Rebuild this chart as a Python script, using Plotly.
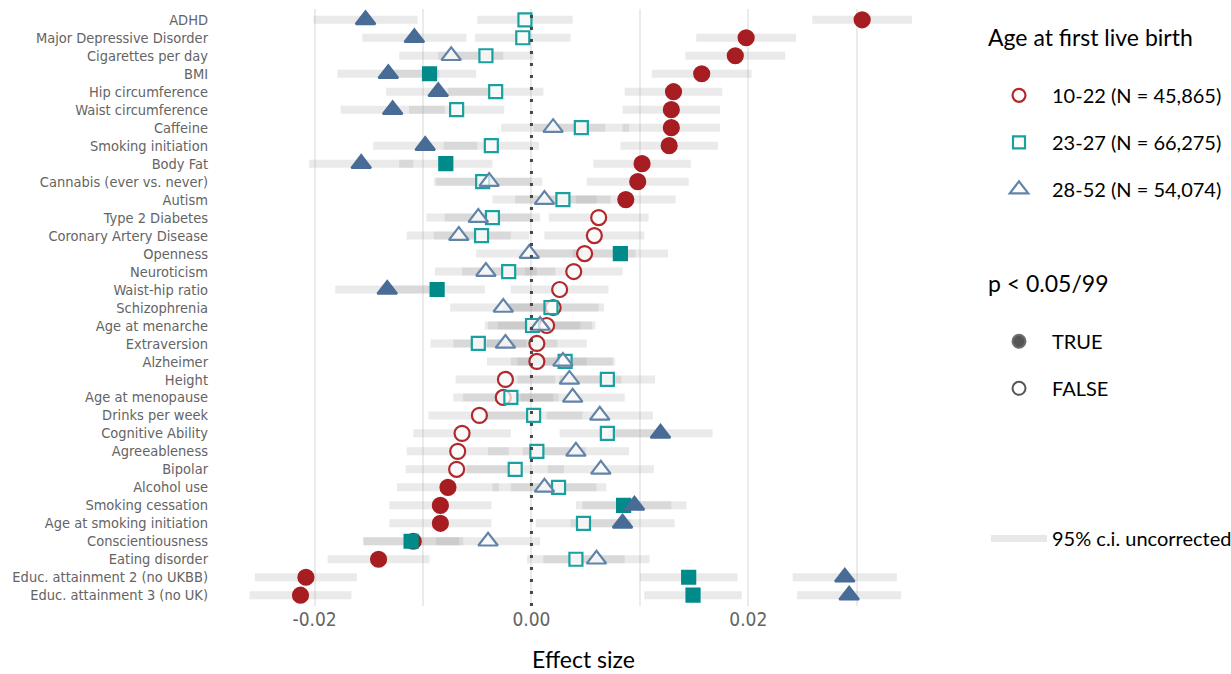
import plotly.graph_objects as go

traits = ["ADHD", "Major Depressive Disorder", "Cigarettes per day", "BMI",
          "Hip circumference", "Waist circumference", "Caffeine", "Smoking initiation",
          "Body Fat", "Cannabis (ever vs. never)", "Autism", "Type 2 Diabetes",
          "Coronary Artery Disease", "Openness", "Neuroticism", "Waist-hip ratio",
          "Schizophrenia", "Age at menarche", "Extraversion", "Alzheimer", "Height",
          "Age at menopause", "Drinks per week", "Cognitive Ability", "Agreeableness",
          "Bipolar", "Alcohol use", "Smoking cessation", "Age at smoking initiation",
          "Conscientiousness", "Eating disorder", "Educ. attainment 2 (no UKBB)",
          "Educ. attainment 3 (no UK)"]

# group 10-22
est_young = [0.0305, 0.0198, 0.0188, 0.0157, 0.0131, 0.0129, 0.0129, 0.0127, 0.0102, 0.0098,
             0.0087, 0.0062, 0.0058, 0.0049, 0.0039, 0.0026, 0.0020, 0.0014, 0.0005, 0.0005,
             -0.0024, -0.0026, -0.0048, -0.0064, -0.0068, -0.0069, -0.0077, -0.0084, -0.0084,
             -0.0109, -0.0141, -0.0208, -0.0213]
sig_young = [1, 1, 1, 1, 1, 1, 1, 1, 1, 1, 1, 0, 0, 0, 0, 0, 0, 0, 0, 0, 0, 0, 0, 0, 0, 0,
             1, 1, 1, 1, 1, 1, 1]
ci_young = [0.0046, 0.0046, 0.0046, 0.0046, 0.0045, 0.0045, 0.0045, 0.0045, 0.0045, 0.0047,
            0.0046, 0.0046, 0.0046, 0.0047, 0.0045, 0.0045, 0.0047, 0.0045, 0.0046, 0.0046,
            0.0046, 0.0046, 0.0047, 0.0045, 0.0047, 0.0047, 0.0047, 0.0047, 0.0047, 0.0046,
            0.0047, 0.0047, 0.0047]

# group 23-27
est_mid = [-0.0006, -0.0008, -0.0042, -0.0094, -0.0033, -0.0069, 0.0046, -0.0037, -0.0079,
           -0.0045, 0.0029, -0.0036, -0.0046, 0.0082, -0.0021, -0.0087, 0.0018, 0.0001,
           -0.0049, 0.0031, 0.0070, -0.0019, 0.0002, 0.0070, 0.0005, -0.0015, 0.0025,
           0.0085, 0.0048, -0.0111, 0.0041, 0.0145, 0.0149]
sig_mid = [0, 0, 0, 1, 0, 0, 0, 0, 1, 0, 0, 0, 0, 1, 0, 1, 0, 0, 0, 0, 0, 0, 0, 0, 0, 0, 0,
           1, 0, 1, 0, 1, 1]
ci_mid = [0.0044, 0.0044, 0.0044, 0.0043, 0.0044, 0.0044, 0.0044, 0.0044, 0.0043, 0.0045,
          0.0044, 0.0044, 0.0044, 0.0044, 0.0043, 0.0044, 0.0044, 0.0044, 0.0044, 0.0044,
          0.0044, 0.0044, 0.0045, 0.0044, 0.0045, 0.0045, 0.0044, 0.0044, 0.0044, 0.0044,
          0.0045, 0.0045, 0.0045]

# group 28-52
est_old = [-0.0153, -0.0108, -0.0074, -0.0132, -0.0086, -0.0128, 0.0020, -0.0098, -0.0157,
           -0.0039, 0.0012, -0.0049, -0.0067, -0.0002, -0.0042, -0.0133, -0.0026, 0.0008,
           -0.0024, 0.0029, 0.0035, 0.0038, 0.0063, 0.0119, 0.0041, 0.0064, 0.0012,
           0.0095, 0.0084, -0.0040, 0.0060, 0.0289, 0.0293]
sig_old = [1, 1, 0, 1, 1, 1, 0, 1, 1, 0, 0, 0, 0, 0, 0, 1, 0, 0, 0, 0, 0, 0, 0, 1, 0, 0, 0,
           1, 1, 0, 0, 1, 1]
ci_old = [0.0048, 0.0048, 0.0048, 0.0047, 0.0048, 0.0048, 0.0048, 0.0048, 0.0048, 0.0049,
          0.0048, 0.0048, 0.0048, 0.0049, 0.0047, 0.0048, 0.0049, 0.0048, 0.0048, 0.0048,
          0.0048, 0.0048, 0.0049, 0.0048, 0.0049, 0.0049, 0.0048, 0.0048, 0.0048, 0.0048,
          0.0049, 0.0048, 0.0048]

group_labels = ["10-22 (N = 45,865)", "23-27 (N = 66,275)", "28-52 (N = 54,074)"]
sig_labels = ["TRUE", "FALSE"]
x_ticks = [-0.02, 0.0, 0.02]
x_ticktext = ["-0.02", "0.00", "0.02"]

groups = [
    dict(est=est_young, sig=sig_young, ci=ci_young, symbol="circle",
         fill="rgb(166,30,34)", line="rgb(178,40,44)", size=15, label=group_labels[0]),
    dict(est=est_mid, sig=sig_mid, ci=ci_mid, symbol="square",
         fill="rgb(0,138,138)", line="rgb(25,160,160)", size=13, label=group_labels[1]),
    dict(est=est_old, sig=sig_old, ci=ci_old, symbol="triangle-up",
         fill="rgb(72,108,150)", line="rgb(98,132,168)", size=17, label=group_labels[2]),
]

TICK_FONT = "DejaVu Sans Condensed, Roboto, sans-serif"
LEG_FONT = "Lato, Open Sans, sans-serif"
bar_color = "rgba(160,160,160,0.22)"

fig = go.Figure()

# CI bars
for g in groups:
    xs, ys = [], []
    for t, e, c in zip(traits, g["est"], g["ci"]):
        xs += [e - c, e + c, None]
        ys += [t, t, None]
    fig.add_trace(go.Scatter(x=xs, y=ys, mode="lines", line=dict(color=bar_color, width=8),
                             hoverinfo="skip", showlegend=False))

# points
for g in groups:
    colors = [g["fill"] if s else "rgba(255,255,255,0.7)" for s in g["sig"]]
    fig.add_trace(go.Scatter(
        x=g["est"], y=traits, mode="markers",
        marker=dict(symbol=g["symbol"], size=g["size"], color=colors,
                    line=dict(color=[g["fill"] if s else g["line"] for s in g["sig"]], width=2.2)),
        showlegend=False))

# legend 1: groups
for i, g in enumerate(groups):
    fig.add_trace(go.Scatter(
        x=[None], y=[None], mode="markers", name=g["label"], legend="legend",
        legendgroup="g%d" % i,
        marker=dict(symbol=g["symbol"] + "-open", size={0: 13, 1: 12, 2: 16}[i],
                    color=g["line"], line=dict(width=2.2, color=g["line"]))))

# legend 2: significance
for i, lab in enumerate(sig_labels):
    fig.add_trace(go.Scatter(
        x=[None], y=[None], mode="markers", name=lab, legend="legend2",
        legendgroup="s%d" % i,
        marker=dict(symbol="circle" if i == 0 else "circle-open", size=13,
                    color="rgb(85,85,85)", line=dict(width=2, color="rgb(110,110,110)"))))

# legend 3: CI
fig.add_trace(go.Scatter(x=[None], y=[None], mode="lines", name="95% c.i. uncorrected",
                         legend="legend3", line=dict(color="rgb(232,232,232)", width=7)))

fig.add_vline(x=0, line=dict(color="rgb(70,70,70)", width=3, dash="3px,9px"), layer="above")

L, R, T, B = 217, 281, 9, 68
W, H = 1231, 674
pw, ph = W - L - R, H - T - B

def px_x(px):
    return (px - L) / pw

def px_y(py):
    return (H - B - py) / ph

legend_common = dict(bgcolor="rgba(0,0,0,0)", font=dict(family=LEG_FONT, size=20, color="black"),
                     xanchor="left", yanchor="top", traceorder="grouped", itemwidth=56)

fig.update_layout(
    width=W, height=H,
    margin=dict(l=L, r=R, t=T, b=B, autoexpand=False),
    plot_bgcolor="white", paper_bgcolor="white",
    xaxis=dict(range=[-0.029, 0.0386], tickvals=x_ticks, ticktext=x_ticktext, automargin=False,
               showgrid=True, gridcolor="rgb(235,235,235)", gridwidth=1.5,
               minor=dict(dtick=0.01, tick0=0, showgrid=True, gridcolor="rgb(235,235,235)", gridwidth=1.5),
               zeroline=False, showline=False, ticks="", ticklabelstandoff=0,
               tickfont=dict(family=TICK_FONT, size=19, color="rgb(100,100,100)"),
               title=dict(text="Effect size", font=dict(family=LEG_FONT, size=23, color="black"),
                          standoff=22)),
    yaxis=dict(type="category", categoryorder="array", categoryarray=traits,
               tickmode="array", tickvals=traits, ticktext=traits, automargin=False,
               range=[len(traits) - 0.4, -0.6], showgrid=False, zeroline=False, showline=False,
               ticks="", ticklabelstandoff=8,
               tickfont=dict(family=TICK_FONT, size=14.5, color="rgb(100,100,100)")),
    legend=dict(**legend_common, x=px_x(986), y=px_y(16), tracegroupgap=18,
                title=dict(text="Age at first live birth<br>", font=dict(family=LEG_FONT, size=23, color="black"))),
    legend2=dict(**legend_common, x=px_x(986), y=px_y(262), tracegroupgap=18,
                 title=dict(text="p < 0.05/99<br>", font=dict(family=LEG_FONT, size=23, color="black"))),
    legend3=dict(**legend_common, x=px_x(986), y=px_y(519)),
    showlegend=True,
)

fig.write_html("out.html", config={"displayModeBar": False},
               post_script="document.body.style.margin='0';document.body.style.padding='0';")
